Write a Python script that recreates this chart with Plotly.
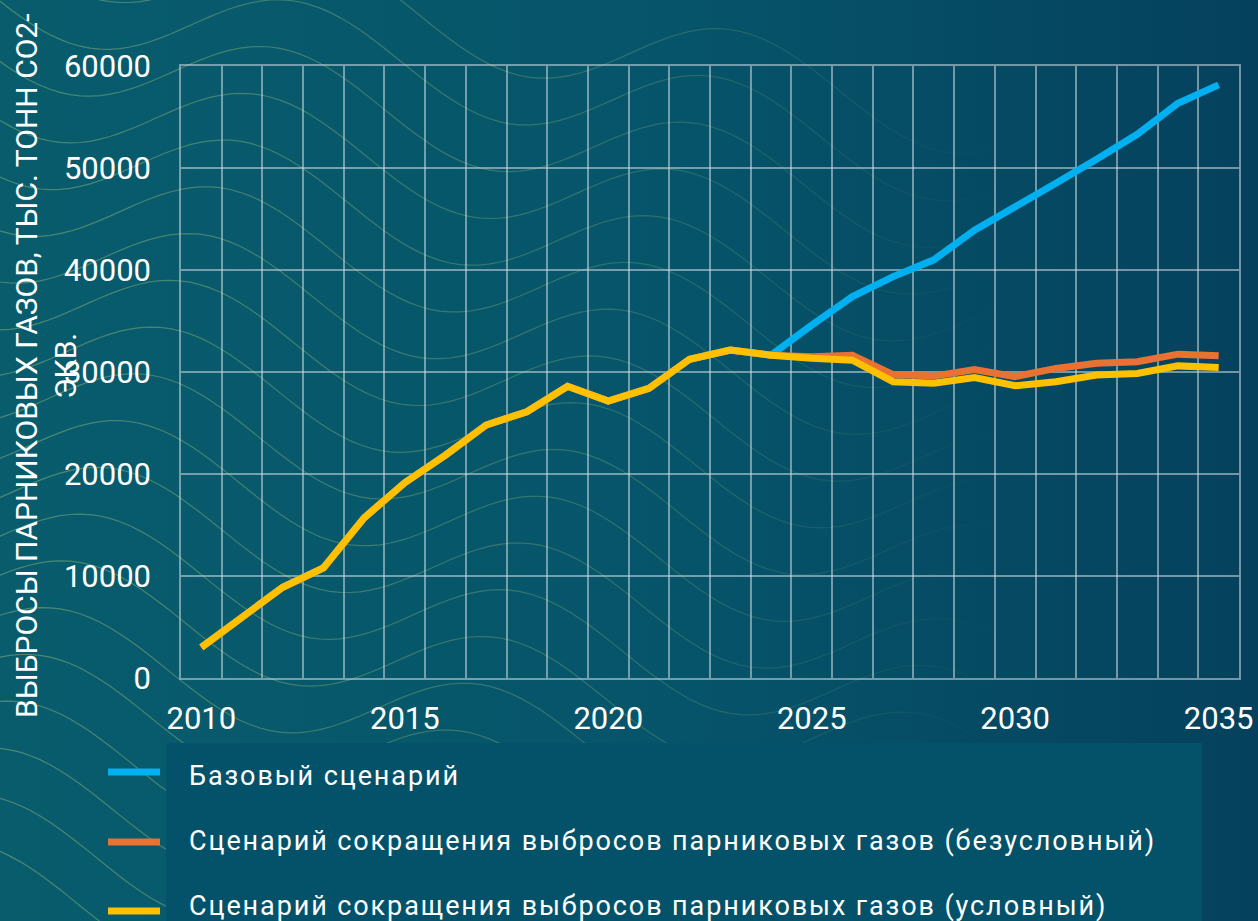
import base64
import math
import plotly.graph_objects as go

# ---------------- data ----------------
years_hist = list(range(2010, 2025))
hist_values = [3000, 5900, 8900, 10800, 15700, 19150, 21850, 24800, 26100,
               28600, 27150, 28400, 31250, 32150, 31650]
years_proj = list(range(2025, 2036))
base_values = [34600, 37400, 39350, 41000, 43900, 46300, 48500, 50850,
               53300, 56350, 58150]
uncond_values = [31500, 31650, 29750, 29600, 30250, 29550, 30350, 30850,
                 31000, 31750, 31600]
cond_values = [31350, 31150, 29050, 28900, 29450, 28650, 29050, 29700,
               29850, 30600, 30450]

series_names = [
    "Базовый сценарий",
    "Сценарий сокращения выбросов парниковых газов (безусловный)",
    "Сценарий сокращения выбросов парниковых газов (условный)",
]
series_colors = ["#00b0f0", "#e97132", "#ffc000"]
x_tick_vals = [2010, 2015, 2020, 2025, 2030, 2035]
y_tick_vals = [0, 10000, 20000, 30000, 40000, 50000, 60000]
y_title = "ВЫБРОСЫ ПАРНИКОВЫХ ГАЗОВ, ТЫС. ТОНН CO2-<br>ЭКВ."

# ---------------- decorative background (svg) ----------------
W, H = 1258, 921
paths = []
for i in range(20):
    y0 = -60 + i * 50
    pts = []
    for k in range(0, 111):
        x = -40 + k * 10
        y = y0 + 42 * math.sin((x + i * 18) / 420 * 2 * math.pi) + 0.18 * x
        pts.append(f"{x:.0f},{y:.1f}")
    paths.append('<polyline points="' + " ".join(pts) +
                 '" fill="none" stroke="url(#wv)" stroke-width="1.2"/>')
svg = f'''<svg xmlns="http://www.w3.org/2000/svg" width="{W}" height="{H}" viewBox="0 0 {W} {H}">
<defs>
<linearGradient id="bg" x1="0" y1="0" x2="1" y2="0">
<stop offset="0" stop-color="#085c6c"/>
<stop offset="0.55" stop-color="#06546a"/>
<stop offset="1" stop-color="#05415d"/>
</linearGradient>
<linearGradient id="wv" gradientUnits="userSpaceOnUse" x1="0" y1="0" x2="1000" y2="0">
<stop offset="0" stop-color="#a6c87a" stop-opacity="0.42"/>
<stop offset="0.6" stop-color="#a6c87a" stop-opacity="0.26"/>
<stop offset="1" stop-color="#a6c87a" stop-opacity="0"/>
</linearGradient>
</defs>
<rect x="0" y="0" width="{W}" height="{H}" fill="url(#bg)"/>
{''.join(paths)}
</svg>'''
bg_uri = "data:image/svg+xml;base64," + base64.b64encode(svg.encode("utf-8")).decode()

# ---------------- layout geometry ----------------
ML, MR, MT, MB = 181, 19, 66, 243
PW = W - ML - MR
PH = H - MT - MB


def px_x(px):
    return (px - ML) / PW


def px_y(py):
    return (H - MB - py) / PH


# ---------------- figure ----------------
fig = go.Figure()
projections = [base_values, uncond_values, cond_values]
for name, color, proj in zip(series_names, series_colors, projections):
    fig.add_trace(go.Scatter(
        x=years_hist + years_proj,
        y=hist_values + proj,
        mode="lines",
        name=name,
        showlegend=False,
        line=dict(color=color, width=7),
        hoverinfo="skip",
    ))

# custom legend (symbol lines + labels), placed as in the reference
legend_symbol_y = [772, 842, 911]
legend_text_y = [776, 841, 906]
shapes = [dict(
    type="rect", xref="paper", yref="paper",
    x0=px_x(166), x1=px_x(1202), y0=px_y(743), y1=px_y(960),
    fillcolor="#04526a", line=dict(width=0), layer="below",
)]
annotations = [dict(
    text=y_title, xref="paper", yref="paper",
    x=px_x(46), y=px_y(366), xanchor="center", yanchor="middle",
    textangle=-90, showarrow=False, align="center",
    font=dict(family="Roboto", size=30, color="white"),
)]
for name, color, sy, ty in zip(series_names, series_colors,
                               legend_symbol_y, legend_text_y):
    shapes.append(dict(
        type="line", xref="paper", yref="paper",
        x0=px_x(108), x1=px_x(160), y0=px_y(sy), y1=px_y(sy),
        line=dict(color=color, width=7),
    ))
    annotations.append(dict(
        text=f'<span style="letter-spacing:1.9px">{name}</span>',
        xref="paper", yref="paper",
        x=px_x(187), y=px_y(ty), xanchor="left", yanchor="middle",
        showarrow=False, align="left",
        font=dict(family="Roboto", size=27, color="white"),
    ))

grid_color = "rgba(205,218,224,0.55)"
fig.update_layout(
    width=W, height=H,
    margin=dict(l=ML, r=MR, t=MT, b=MB, pad=0, autoexpand=False),
    paper_bgcolor="#06546a",
    plot_bgcolor="rgba(0,0,0,0)",
    font=dict(family="Roboto", color="white", size=31),
    showlegend=False,
    images=[dict(
        source=bg_uri, xref="paper", yref="paper",
        x=px_x(0), y=px_y(0), sizex=W / PW, sizey=H / PH,
        xanchor="left", yanchor="top", sizing="stretch", layer="below",
    )],
    shapes=shapes,
    annotations=annotations,
)

fig.update_xaxes(
    range=[2009.5, 2035.5],
    tickmode="array", tickvals=x_tick_vals,
    showgrid=False, automargin=False,
    ticks="", ticklabelstandoff=12,
    showline=True, linecolor=grid_color, linewidth=1.5, mirror=True,
    zeroline=False,
    minor=dict(tickmode="array",
               tickvals=[y - 0.5 for y in range(2010, 2037)],
               showgrid=True, gridcolor=grid_color, gridwidth=1.5, ticks=""),
    tickfont=dict(family="Roboto", size=31, color="white"),
)
fig.update_yaxes(
    range=[0, 60000],
    tickmode="array", tickvals=y_tick_vals,
    tickformat="d", automargin=False,
    showgrid=True, gridcolor=grid_color, gridwidth=1.5,
    ticks="", ticklabelstandoff=22,
    showline=True, linecolor=grid_color, linewidth=1.5, mirror=True,
    zeroline=False,
    tickfont=dict(family="Roboto", size=31, color="white"),
)

fig.write_html(
    "out.html",
    config={"displayModeBar": False},
    post_script="document.body.style.margin='0';document.body.style.padding='0';"
                "document.body.style.overflow='hidden';",
)
